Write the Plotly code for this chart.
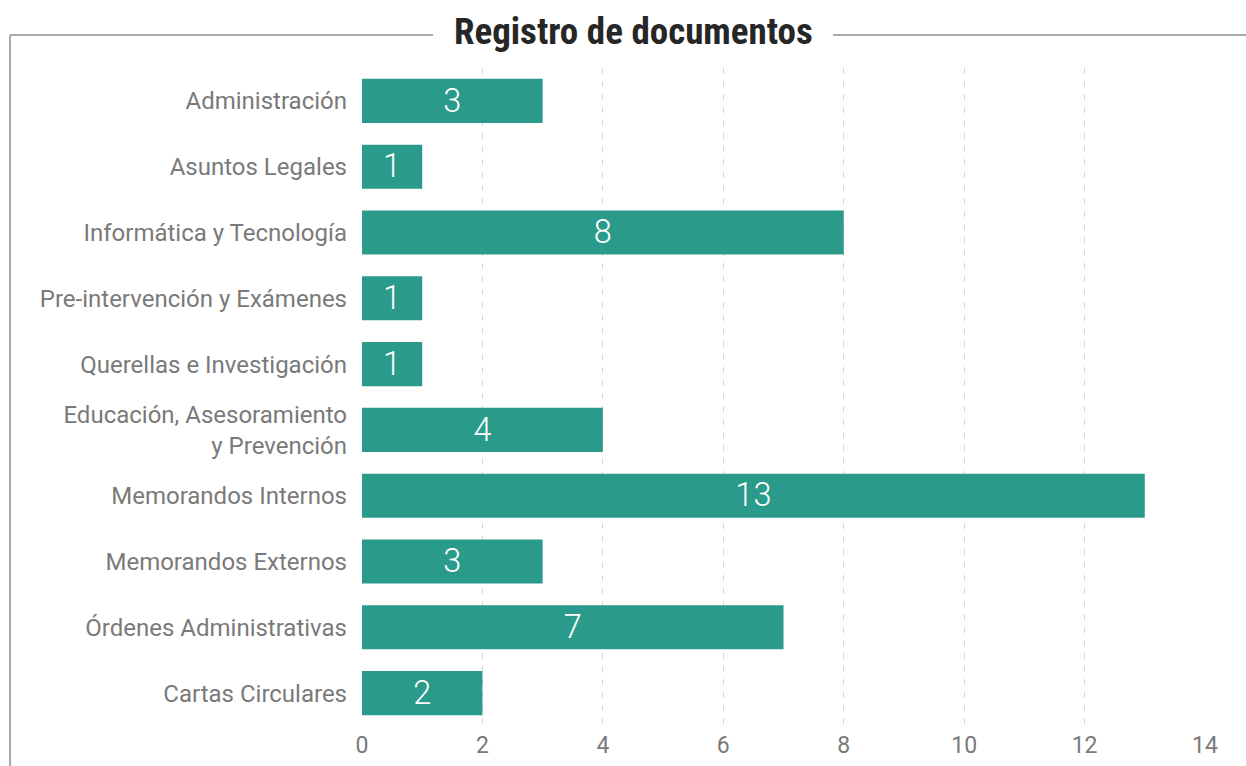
import plotly.graph_objects as go

categories = [
    "Administración",
    "Asuntos Legales",
    "Informática y Tecnología",
    "Pre-intervención y Exámenes",
    "Querellas e Investigación",
    "Educación, Asesoramiento<br>y Prevención",
    "Memorandos Internos",
    "Memorandos Externos",
    "Órdenes Administrativas",
    "Cartas Circulares",
]
values = [3, 1, 8, 1, 1, 4, 13, 3, 7, 2]
x_ticks = [0, 2, 4, 6, 8, 10, 12, 14]
title_text = "Registro de documentos"

W, H = 1246, 766
L, R = 362, 1205
T, B = 68, 726

def px_x(p):
    return (p - L) / (R - L)

def px_y(p):
    return (B - p) / (B - T)

fig = go.Figure(
    go.Bar(
        x=values,
        y=categories,
        orientation="h",
        marker=dict(color="#2a9b8a", line=dict(width=0)),
        width=0.67,
        text=[str(v) for v in values],
        textposition="inside",
        insidetextanchor="middle",
        textangle=0,
        textfont=dict(family="Roboto", size=35, color="white", weight=300),
        hoverinfo="skip",
    )
)

line_color = "#a9a9a9"
shapes = [
    dict(type="line", xref="paper", yref="paper", x0=px_x(10), x1=px_x(10),
         y0=px_y(35), y1=px_y(H + 5), line=dict(color=line_color, width=2)),
    dict(type="line", xref="paper", yref="paper", x0=px_x(10), x1=px_x(433),
         y0=px_y(35), y1=px_y(35), line=dict(color=line_color, width=2)),
    dict(type="line", xref="paper", yref="paper", x0=px_x(833), x1=px_x(W + 5),
         y0=px_y(35), y1=px_y(35), line=dict(color=line_color, width=2)),
]

fig.update_layout(
    width=W,
    height=H,
    margin=dict(l=L, r=W - R, t=T, b=H - B, autoexpand=False),
    paper_bgcolor="white",
    plot_bgcolor="white",
    showlegend=False,
    shapes=shapes,
    annotations=[
        dict(text=f"<b>{title_text}</b>", xref="paper", yref="paper",
             x=px_x(633), y=px_y(31), xanchor="center", yanchor="middle",
             showarrow=False,
             font=dict(family="Roboto Condensed, Liberation Sans Narrow, Roboto", size=37,
                       color="#262626", weight=800)),
    ],
    xaxis=dict(
        range=[0, 14],
        tickvals=x_ticks,
        showgrid=True,
        gridcolor="#d6d6d6",
        gridwidth=1,
        griddash="6px,7px",
        zeroline=False,
        showline=False,
        ticks="",
        automargin=False,
        ticklabelstandoff=3,
        tickfont=dict(family="Roboto", size=23, color="#7a7a7a"),
        fixedrange=True,
    ),
    yaxis=dict(
        autorange="reversed",
        showgrid=False,
        zeroline=False,
        showline=False,
        ticks="",
        automargin=False,
        ticklabelstandoff=14,
        tickfont=dict(family="Roboto", size=24, color="#7a7a7a"),
        fixedrange=True,
    ),
)

fig.write_html("out.html", post_script="document.body.style.margin='0';",
               config={"displayModeBar": False})
